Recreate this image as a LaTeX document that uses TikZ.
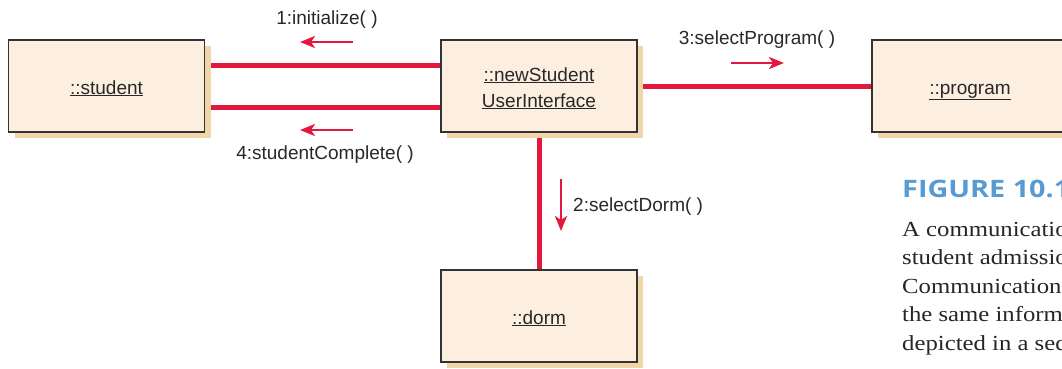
\documentclass[tikz,border=0pt]{standalone}
\usepackage{fontspec}
\setmainfont{Liberation Sans}
\newfontfamily\captionserif[FakeStretch=1.15]{Liberation Serif}
\newfontfamily\captionsans[FakeStretch=1.2]{Open Sans}
\usetikzlibrary{arrows.meta,positioning,shadows,backgrounds}
\definecolor{linkred}{RGB}{227, 24, 60}
\definecolor{boxfill}{RGB}{253, 239, 224}
\definecolor{boxshadow}{RGB}{241, 214, 170}
\definecolor{boxedge}{RGB}{51, 51, 51}
\definecolor{labelgray}{RGB}{40, 40, 40}
\definecolor{figureblue}{RGB}{88, 155, 212}

\begin{document}
\begin{tikzpicture}[x=1pt,y=-1pt,
    object/.style={draw=boxedge,line width=1.4pt,fill=boxfill,minimum width=196pt,minimum height=92pt,
        inner sep=0pt,align=center,text=labelgray,font=\fontsize{19}{26}\selectfont,
        text height=16pt,text depth=0pt,
        drop shadow={shadow xshift=6pt,shadow yshift=-6pt,fill=boxshadow,opacity=1}},
    link/.style={linkred,line width=5pt},
    msg/.style={linkred,line width=2.5pt,-{Stealth[length=15pt,width=12pt,inset=4pt]}},
    msglabel/.style={text=labelgray,inner sep=0pt,font=\fontsize{19}{23}\selectfont},
    capline/.style={anchor=base west,inner sep=0pt,text=black!85,font=\captionserif\fontsize{21.5}{28}\selectfont}]
    \clip (0,0) rectangle (1062,368);
    % objects
    \node[object] (student) at (106.5,86) {\underline{::student}};
    \node[object,text height=42pt] (ui) at (539,86) {\underline{::newStudent}\\\underline{UserInterface}};
    \node[object] (program) at (970,86) {\underline{::program}};
    \node[object] (dorm) at (539,316) {\underline{::dorm}};
    % links
    \begin{scope}[on background layer]
        \draw[link] ([yshift=21pt]student.east) -- ([yshift=21pt]ui.west);
        \draw[link] ([yshift=-21pt]student.east) -- ([yshift=-21pt]ui.west);
        \draw[link] (ui.east) -- (program.west);
        \draw[link] (ui.south) -- (dorm.north);
    \end{scope}
    % messages
    \coordinate (init from) at (353,42);
    \coordinate (init to) at (300,42);
    \coordinate (done from) at (353,130);
    \coordinate (done to) at (300,130);
    \coordinate (prog from) at (731,63);
    \coordinate (prog to) at (784,63);
    \coordinate (dorm from) at (561,179);
    \coordinate (dorm to) at (561,231);
    \draw[msg] (init from) -- (init to);
    \draw[msg] (done from) -- (done to);
    \draw[msg] (prog from) -- (prog to);
    \draw[msg] (dorm from) -- (dorm to);
    \node[msglabel] (init) at (327,20) {1:initialize( )};
    \node[msglabel] (done) at (325,155) {4:studentComplete( )};
    \node[msglabel] (prog) at (757,40) {3:selectProgram( )};
    \node[msglabel,anchor=west] (seldorm) at (573,207) {2:selectDorm( )};
    % caption
    \node[anchor=base west,inner sep=0pt,text=figureblue,font=\captionsans\bfseries\fontsize{24}{28}\selectfont] (fig) at (902,197) {FIGURE 10.1};
    \foreach \txt [count=\i] in {A communication diagram for,student admission.,Communication diagrams show,the same information that is,depicted in a sequence diagram}
        \node[capline] (cap\i) at (902,{236+28.5*(\i-1)}) {\txt};
\end{tikzpicture}
\end{document}
